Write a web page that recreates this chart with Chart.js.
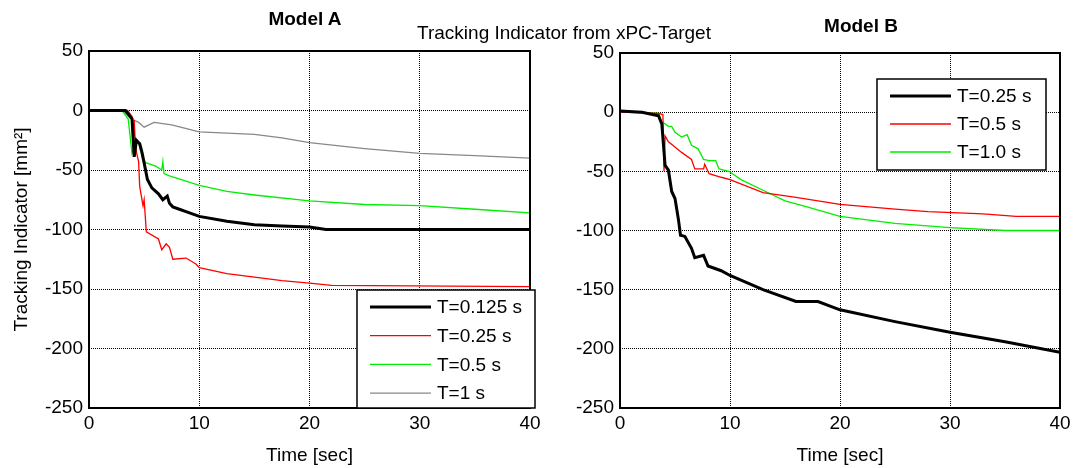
<!DOCTYPE html>
<html>
<head>
<meta charset="utf-8">
<script src="https://cdn.jsdelivr.net/npm/chart.js@4"></script>
<style>
  body { margin: 0; background: #fff; }
  #wrap { position: relative; width: 1075px; height: 468px; background: #fff; overflow: hidden; }
  canvas { position: absolute; top: 0; }
  .lbl { position: absolute; transform: translate(-50%, -50%); white-space: nowrap;
         font-family: "Liberation Sans", Arial, sans-serif; font-size: 19px; color: #000; }
  .bold { font-weight: bold; }
</style>
</head>
<body>
<div id="wrap">
  <canvas id="chartA" width="545" height="468" style="left:0"></canvas>
  <canvas id="chartB" width="535" height="468" style="left:540px"></canvas>
  <div class="lbl bold" style="left:305px;top:19px">Model A</div>
  <div class="lbl bold" style="left:861px;top:26px">Model B</div>
  <div class="lbl" style="left:564px;top:33px">Tracking Indicator from xPC-Target</div>
</div>
<script>
// ---- Model A ----
const timeA_0125 = [0, 3.3, 3.9, 4.1, 4.3, 4.6, 4.8, 5.0, 5.3, 5.7, 6.3, 6.7, 7.1, 7.3, 7.6, 8.2, 8.8, 10, 12.5, 15, 17.5, 20, 21.5, 40];
const valsA_0125 = [0, 0, -7, -39, -25, -28, -35, -44, -58, -65, -70, -75, -72, -78, -81, -83, -85, -89, -93, -96, -97, -98, -100, -100];

const timeA_025 = [0, 3.5, 3.9, 4.0, 4.1, 4.2, 4.3, 4.5, 4.6, 4.9, 5.0, 5.2, 6.3, 6.6, 7.0, 7.3, 7.6, 8.8, 9.7, 10, 12.5, 15, 17.5, 20, 22, 40];
const valsA_025 = [0, 0, -5, -30, -8, -28, -35, -43, -64, -80, -75, -102, -108, -117, -112, -115, -125, -124, -129, -132, -137, -140, -143, -145, -147, -148];

const timeA_05 = [0, 3.0, 3.55, 3.9, 4.2, 4.5, 4.9, 5.2, 6.1, 6.6, 6.7, 6.8, 7.3, 10, 12.5, 15, 20, 25, 30, 35, 40];
const valsA_05 = [0, 0, -7, -36, -27, -27, -42, -44, -47, -50, -43, -53, -55, -63, -68, -71, -76, -79, -80, -83, -86];

const timeA_1 = [0, 3.1, 3.8, 4.5, 5.0, 5.9, 7.5, 10, 12.5, 15, 17.5, 20, 25, 30, 35, 40];
const valsA_1 = [0, 0, -7, -10, -14, -10, -12, -18, -19, -20, -23, -27, -32, -36, -38, -40];

// ---- Model B ----
const timeB_025 = [0, 2, 3.5, 3.8, 4.1, 4.4, 4.7, 5.0, 5.3, 5.5, 5.9, 6.5, 6.8, 7.6, 8.0, 9.2, 10, 13, 16, 18, 20, 25, 30, 35, 40];
const valsB_025 = [1, 0, -3, -10, -45, -49, -67, -73, -90, -104, -105, -115, -123, -121, -130, -134, -138, -150, -160, -160, -167, -177, -186, -194, -203];

const timeB_05 = [0, 3.5, 3.9, 4.0, 4.1, 4.4, 4.8, 5.6, 6.5, 6.8, 7.6, 7.7, 8.1, 9.2, 10, 13, 16, 20, 25, 28, 33, 36, 40];
const valsB_05 = [0, -1, -2, -50, -20, -25, -28, -34, -40, -48, -48, -44, -52, -55, -57, -68, -72, -78, -82, -84, -86, -88, -88];

const timeB_1 = [0, 3.5, 3.8, 4.4, 4.7, 5.0, 5.6, 6.1, 6.5, 7.1, 7.6, 8.1, 8.7, 9.0, 9.9, 11, 13, 15, 17, 20, 25, 30, 35, 40];
const valsB_1 = [1, -1, -8, -12, -12, -17, -21, -19, -28, -31, -40, -41, -41, -48, -50, -57, -66, -75, -80, -88, -94, -97.5, -100, -100];

const xTicks = [0, 10, 20, 30, 40];
const yTicks = [50, 0, -50, -100, -150, -200, -250];

const FONT = '"Liberation Sans", Arial, sans-serif';

function pts(t, v) {
  return t.map((x, i) => ({ x: x, y: v[i] }));
}

function line(label, t, v, color, width) {
  return {
    label, data: pts(t, v), borderColor: color, backgroundColor: color,
    borderWidth: width, pointRadius: 0, tension: 0, fill: false
  };
}

// solid box round the plot area
const frame = {
  id: "frame",
  afterDatasetsDraw(chart) {
    const { ctx, chartArea: a } = chart;
    ctx.save();
    ctx.strokeStyle = "#000";
    ctx.lineWidth = 2;
    ctx.strokeRect(a.left, a.top, a.width, a.height);
    ctx.restore();
  }
};

// matlab style legend box inside the axes
const boxLegend = {
  id: "boxLegend",
  afterDraw(chart, args, o) {
    const { ctx } = chart;
    ctx.save();
    ctx.fillStyle = "#fff";
    ctx.fillRect(o.x, o.y, o.w, o.h);
    ctx.strokeStyle = "#000";
    ctx.lineWidth = 1.5;
    ctx.strokeRect(o.x, o.y, o.w, o.h);
    ctx.font = "19px " + FONT;
    ctx.textBaseline = "middle";
    chart.data.datasets.forEach((ds, i) => {
      const y = o.y + o.rowTop + i * o.rowGap;
      ctx.strokeStyle = ds.borderColor;
      ctx.lineWidth = ds.borderWidth;
      ctx.beginPath();
      ctx.moveTo(o.x + 13, y);
      ctx.lineTo(o.x + 74, y);
      ctx.stroke();
      ctx.fillStyle = "#000";
      ctx.fillText(ds.label, o.x + 80, y + 1);
    });
    ctx.restore();
  }
};

function makeChart(id, datasets, opts) {
  return new Chart(document.getElementById(id).getContext("2d"), {
    type: "line",
    data: { datasets },
    plugins: [frame, boxLegend],
    options: {
      responsive: false,
      animation: false,
      layout: { padding: { left: 0, top: opts.top, right: 15, bottom: 0 } },
      scales: {
        x: {
          type: "linear", min: 0, max: 40,
          afterBuildTicks: s => { s.ticks = xTicks.map(v => ({ value: v })); },
          afterFit: s => { s.height = 60; },
          grid: { color: "#000", lineWidth: 1, drawTicks: false },
          border: { display: false, dash: [1, 1] },
          ticks: { color: "#000", font: { family: FONT, size: 19 }, padding: 4, maxRotation: 0 },
          title: { display: true, text: "Time [sec]", color: "#000", font: { family: FONT, size: 19 }, padding: { top: 0, bottom: 1 } }
        },
        y: {
          type: "linear", min: -250, max: 50,
          afterBuildTicks: s => { s.ticks = yTicks.map(v => ({ value: v })); },
          afterFit: s => { s.width = opts.yWidth; },
          grid: { color: "#000", lineWidth: 1, drawTicks: false },
          border: { display: false, dash: [1, 1] },
          ticks: { color: "#000", font: { family: FONT, size: 19 }, padding: 6 },
          title: {
            display: opts.yTitle, text: "Tracking Indicator [mm²]", color: "#000",
            font: { family: FONT, size: 19 }, padding: { top: 10, bottom: 0 }
          }
        }
      },
      plugins: {
        legend: { display: false },
        tooltip: { enabled: false },
        boxLegend: opts.legend
      }
    }
  });
}

const chartA = makeChart("chartA", [
  line("T=0.125 s", timeA_0125, valsA_0125, "#000000", 3),
  line("T=0.25 s", timeA_025, valsA_025, "#ff0000", 1.3),
  line("T=0.5 s", timeA_05, valsA_05, "#00ee00", 1.3),
  line("T=1 s", timeA_1, valsA_1, "#888888", 1.3)
], { top: 51, yWidth: 89, yTitle: true,
     legend: { x: 357, y: 290, w: 178, h: 118, rowTop: 17, rowGap: 28.7 } });

const chartB = makeChart("chartB", [
  line("T=0.25 s", timeB_025, valsB_025, "#000000", 3),
  line("T=0.5 s", timeB_05, valsB_05, "#ff0000", 1.3),
  line("T=1.0 s", timeB_1, valsB_1, "#00ee00", 1.3)
], { top: 53, yWidth: 80, yTitle: false,
     legend: { x: 337, y: 79, w: 169, h: 91, rowTop: 17, rowGap: 28 } });
</script>
</body>
</html>
